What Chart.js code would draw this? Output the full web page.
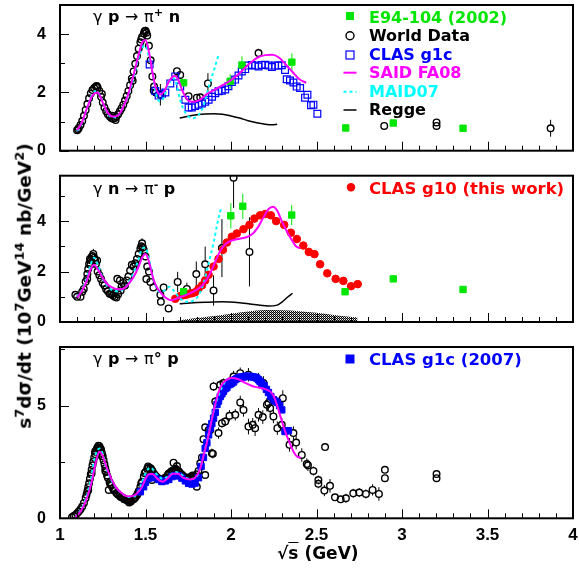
<!DOCTYPE html>
<html><head><meta charset="utf-8">
<script src="https://cdn.jsdelivr.net/npm/chart.js@4.4.1/dist/chart.umd.min.js"></script>
<style>
html,body{margin:0;padding:0;background:#fff;}
#wrap{position:relative;width:579px;height:571px;overflow:hidden;background:#fff;}
canvas{position:absolute;left:0;top:0;}
.t{position:absolute;white-space:nowrap;font-family:"DejaVu Sans",sans-serif;font-weight:bold;font-size:16px;line-height:16px;color:#000;}
.t sup{font-size:70%;line-height:0;position:relative;top:-0.55em;vertical-align:baseline;}
.n{font-weight:normal;}
</style></head><body>
<div id="wrap">
<canvas id="c3" width="579" height="571"></canvas>
<canvas id="c2" width="579" height="571"></canvas>
<canvas id="c1" width="579" height="571"></canvas>

<div class="t" style="left:93px;top:9px;"><span class="n">γ</span> p <span class="n">→</span> <span class="n">π</span><sup>+</sup> n</div>
<div class="t" style="left:93px;top:181px;"><span class="n">γ</span> n <span class="n">→</span> <span class="n">π</span><sup>-</sup> p</div>
<div class="t" style="left:93px;top:351px;"><span class="n">γ</span> p <span class="n">→</span> <span class="n">π</span>° p</div>

<div class="t" style="left:369px;top:9.8px;color:#00e600;">E94-104 (2002)</div>
<div class="t" style="left:369px;top:28.3px;">World Data</div>
<div class="t" style="left:369px;top:46.8px;color:#0000ff;">CLAS g1c</div>
<div class="t" style="left:369px;top:65.3px;color:#ff00ff;">SAID FA08</div>
<div class="t" style="left:369px;top:83.8px;color:#00ffff;">MAID07</div>
<div class="t" style="left:369px;top:102.3px;">Regge</div>
<div class="t" style="left:369px;top:181.3px;color:#ff0000;font-size:16.5px;">CLAS g10 (this work)</div>
<div class="t" style="left:369px;top:351.6px;color:#0000ff;font-size:16.5px;">CLAS g1c (2007)</div>

<div class="t" style="left:277px;top:545px;font-size:17px;">√<span style="text-decoration:overline;">s</span> (GeV)</div>
<div class="t" style="left:25px;top:286px;font-size:18.5px;line-height:18.5px;transform:translate(-50%,-50%) rotate(-90deg);">s<sup>7</sup>dσ/dt (10<sup>7</sup>GeV<sup>14</sup> nb/GeV<sup>2</sup>)</div>
</div>
<script>
// ---------------- DATA ----------------
const xRange = [1, 4];
const yMaxes = [5, 5.8, 7.6];
const yMajorSteps = [2, 2, 5];
const yMinorSteps = [1, 1, 2.5];

// Panel 1: gamma p -> pi+ n   [x, y, err]
const p1World = [
[1.10,0.70,0.05],[1.105,0.74,0.05],[1.11,0.78,0.05],[1.12,0.88,0.05],[1.13,1.02,0.05],[1.14,1.20,0.06],[1.15,1.40,0.06],
[1.16,1.60,0.06],[1.17,1.80,0.07],[1.18,1.96,0.07],[1.19,2.08,0.07],[1.20,2.15,0.08],[1.21,2.20,0.08],[1.215,2.22,0.08],
[1.22,2.17,0.08],[1.23,2.05,0.07],[1.24,1.85,0.07],[1.245,1.95,0.07],[1.25,1.65,0.06],[1.26,1.48,0.06],[1.27,1.35,0.05],
[1.28,1.25,0.05],[1.29,1.18,0.05],[1.30,1.12,0.05],[1.305,1.20,0.05],[1.31,1.10,0.05],[1.32,1.12,0.05],[1.325,1.05,0.05],
[1.33,1.17,0.05],[1.34,1.25,0.05],[1.35,1.35,0.06],[1.36,1.46,0.06],[1.37,1.58,0.06],[1.38,1.72,0.07],[1.39,1.88,0.07],
[1.40,2.05,0.08],[1.41,2.25,0.08],[1.42,2.48,0.09],[1.425,2.40,0.09],[1.43,2.72,0.09],[1.44,2.98,0.10],[1.45,3.25,0.10],
[1.46,3.50,0.11],[1.47,3.72,0.12],[1.475,3.82,0.12],[1.48,3.90,0.12],[1.49,4.02,0.13],[1.495,4.10,0.13],[1.50,4.12,0.13],
[1.505,4.05,0.15],[1.51,3.95,0.13],[1.52,3.60,0.12],[1.53,3.10,0.11],[1.54,2.55,0.10],[1.548,2.07,0.10],[1.55,2.20,0.09],
[1.56,2.00,0.09],[1.587,1.92,0.37],[1.684,2.73,0.10],[1.703,2.60,0.10],[1.752,1.87,0.10],[1.80,1.82,0.10],[1.82,1.83,0.10],
[1.865,2.31,0.35],[2.161,3.35,0.15],[2.896,0.85,0.05],[3.202,0.97,0.06],[3.202,0.85,0.06],[3.869,0.77,0.29]
];
const p1E94 = [[1.723,2.33,0.10],[1.995,2.38,0.25],[2.064,2.94,0.30],[2.356,3.04,0.30],[2.671,0.78,0.04],[2.949,0.95,0.05],[3.357,0.77,0.04]];
const p1G1c = [
[1.524,2.96],[1.557,2.05],[1.577,1.89],[1.596,1.95],[1.616,2.00],[1.645,2.31],[1.674,2.55],[1.703,2.20],[1.733,1.75],
[1.752,1.48],[1.771,1.48],[1.79,1.53],[1.81,1.58],[1.83,1.62],[1.849,1.68],[1.869,1.75],[1.889,1.85],[1.908,1.97],
[1.927,2.04],[1.946,2.06],[1.966,2.10],[1.985,2.21],[2.005,2.36],[2.024,2.44],[2.044,2.58],[2.063,2.72],[2.083,2.80],
[2.102,2.92],[2.122,2.94],[2.141,2.92],[2.161,2.89],[2.18,2.94],[2.20,2.95],[2.219,2.92],[2.239,2.87],[2.258,2.92],
[2.277,2.92],[2.297,2.93],[2.316,2.77],[2.326,2.45],[2.345,2.41],[2.365,2.34],[2.384,2.20],[2.404,2.15],[2.433,1.82],
[2.447,1.92],[2.468,1.56],[2.482,1.58],[2.505,1.27]
];
const p1Said = [[1.10,0.70],[1.13,1.00],[1.16,1.50],[1.19,1.90],[1.22,2.00],[1.25,1.65],[1.28,1.30],[1.31,1.17],[1.34,1.22],
[1.37,1.50],[1.40,1.95],[1.43,2.60],[1.46,3.30],[1.48,3.70],[1.50,3.80],[1.52,3.40],[1.54,2.70],[1.56,2.15],[1.585,1.93],
[1.61,2.05],[1.64,2.40],[1.67,2.57],[1.69,2.45],[1.72,2.00],[1.75,1.72],[1.78,1.68],[1.82,1.75],[1.86,1.95],[1.90,2.08],
[1.95,2.25],[2.00,2.42],[2.05,2.66],[2.10,2.95],[2.15,3.18],[2.20,3.28],[2.24,3.29],[2.28,3.20],[2.32,2.96],[2.36,2.70],
[2.40,2.45],[2.44,2.33]];
const p1Maid = [[1.10,0.68],[1.13,0.98],[1.16,1.50],[1.19,1.95],[1.215,2.05],[1.24,1.80],[1.27,1.38],[1.30,1.15],[1.33,1.15],
[1.36,1.40],[1.40,1.90],[1.43,2.50],[1.46,3.20],[1.49,3.60],[1.50,3.62],[1.52,3.20],[1.54,2.70],[1.56,2.00],[1.58,1.70],
[1.60,1.75],[1.63,2.20],[1.66,2.50],[1.68,2.30],[1.70,1.80],[1.72,1.45],[1.75,1.18],[1.78,1.12],[1.81,1.22],[1.84,1.55],
[1.87,2.20],[1.90,2.75],[1.93,3.35]];
const p1Regge = [[1.70,1.12],[1.75,1.18],[1.80,1.23],[1.85,1.26],[1.90,1.27],[1.95,1.25],[2.00,1.19],[2.05,1.12],[2.10,1.03],
[2.15,0.96],[2.20,0.91],[2.24,0.89],[2.27,0.91]];

// Panel 2: gamma n -> pi- p
const p2World = [
[1.09,1.08,0.08],[1.10,1.00,0.08],[1.12,1.00,0.08],[1.13,1.20,0.08],[1.139,1.31,0.09],[1.15,1.60,0.1],[1.159,1.71,0.1],
[1.16,1.90,0.1],[1.165,2.10,0.12],[1.17,2.30,0.12],[1.175,2.50,0.12],[1.178,2.27,0.12],[1.18,2.45,0.12],[1.185,2.58,0.13],
[1.19,2.62,0.15],[1.195,2.70,0.2],[1.20,2.55,0.15],[1.205,2.45,0.12],[1.21,2.30,0.12],[1.217,2.44,0.12],[1.22,2.00,0.1],
[1.23,1.85,0.1],[1.24,1.70,0.1],[1.25,1.55,0.1],[1.26,1.45,0.1],[1.27,1.30,0.1],[1.28,1.22,0.1],[1.29,1.12,0.1],
[1.30,1.10,0.1],[1.31,1.05,0.1],[1.314,1.14,0.1],[1.32,1.00,0.1],[1.33,0.97,0.1],[1.335,1.71,0.12],[1.34,1.10,0.1],
[1.35,1.65,0.12],[1.355,1.25,0.1],[1.36,1.40,0.1],[1.37,1.55,0.1],[1.38,1.45,0.1],[1.39,1.65,0.1],[1.40,1.80,0.12],
[1.41,2.04,0.12],[1.42,2.27,0.12],[1.43,2.20,0.12],[1.44,2.33,0.12],[1.45,2.50,0.13],[1.46,2.70,0.14],[1.47,2.90,0.15],
[1.475,3.00,0.15],[1.48,3.12,0.2],[1.485,2.95,0.15],[1.49,2.85,0.15],[1.50,2.60,0.15],[1.505,1.70,0.15],[1.51,2.20,0.15],
[1.52,2.00,0.12],[1.528,1.59,0.12],[1.546,1.37,0.12],[1.587,1.08,0.12],[1.59,0.80,0.12],[1.606,1.37,0.15],[1.635,0.54,0.1],
[1.688,1.59,0.4],[1.742,1.31,0.25],[1.797,1.90,0.5],[1.849,2.29,0.7],[1.898,1.25,0.6],[1.947,2.93,1.15],[2.015,5.72,1.2],
[2.108,2.78,1.37]
];
const p2E94 = [[1.723,1.20,0.08],[1.999,4.21,0.5],[2.069,4.59,0.5],[2.355,4.24,0.4],[2.667,1.20,0.05],[2.949,1.71,0.1],[3.357,1.29,0.06]];
const p2G10 = [
[1.674,0.92],[1.703,1.03],[1.72,1.06],[1.738,1.08],[1.755,1.12],[1.772,1.14],[1.79,1.18],[1.81,1.32],[1.83,1.45],
[1.849,1.65],[1.869,1.87],[1.898,2.20],[1.927,2.50],[1.953,2.86],[1.976,3.15],[2.005,3.38],[2.034,3.51],[2.073,3.68],
[2.108,3.85],[2.137,4.10],[2.17,4.23],[2.20,4.28],[2.233,4.23],[2.264,4.00],[2.311,3.85],[2.35,3.54],[2.385,3.29],
[2.423,3.03],[2.455,2.78],[2.488,2.69],[2.521,2.29],[2.563,1.93],[2.612,1.71],[2.657,1.63],[2.702,1.42],[2.741,1.50]
];
const p2Said = [[1.10,0.97],[1.13,1.25],[1.16,1.70],[1.18,2.10],[1.20,2.27],[1.22,2.10],[1.25,1.75],[1.28,1.48],[1.31,1.35],
[1.34,1.30],[1.37,1.32],[1.40,1.50],[1.43,1.78],[1.46,2.20],[1.48,2.55],[1.50,2.70],[1.52,2.40],[1.54,1.85],[1.56,1.45],
[1.59,1.15],[1.62,0.95],[1.65,0.86],[1.69,0.95],[1.73,1.05],[1.78,1.20],[1.82,1.38],[1.85,1.60],[1.88,1.95],[1.91,2.42],
[1.94,2.85],[1.97,3.10],[2.00,3.22],[2.05,3.30],[2.09,3.36],[2.13,3.52],[2.16,3.78],[2.19,4.15],[2.22,4.48],[2.245,4.57],
[2.27,4.42],[2.30,3.95],[2.33,3.55],[2.36,3.20],[2.38,3.00],[2.405,2.93]];
const p2Maid = [[1.10,1.00],[1.13,1.30],[1.16,1.80],[1.18,2.30],[1.20,2.55],[1.22,2.30],[1.25,1.75],[1.28,1.40],[1.31,1.25],
[1.34,1.22],[1.37,1.30],[1.40,1.55],[1.43,1.95],[1.46,2.50],[1.48,2.90],[1.50,2.95],[1.52,2.50],[1.55,1.60],[1.58,1.20],
[1.61,1.25],[1.64,1.40],[1.67,1.20],[1.70,0.95],[1.74,0.80],[1.78,0.85],[1.81,1.05],[1.84,1.55],[1.87,2.35],[1.90,3.20],
[1.92,3.90],[1.94,4.47]];
const p2Regge = [[1.70,0.72],[1.76,0.75],[1.85,0.78],[1.95,0.80],[2.05,0.76],[2.15,0.68],[2.22,0.63],[2.27,0.67],[2.30,0.80],
[2.33,0.98],[2.36,1.14]];
const p2Sys = [[1.67,0.03],[1.75,0.12],[1.85,0.20],[1.95,0.28],[2.05,0.38],[2.15,0.46],[2.25,0.48],[2.35,0.46],[2.45,0.40],
[2.55,0.33],[2.65,0.24],[2.74,0.18]];

// Panel 3: gamma p -> pi0 p
const p3World = [
[1.07,0.05,0.03],[1.08,0.10,0.03],[1.09,0.15,0.03],[1.10,0.22,0.04],[1.11,0.30,0.04],[1.12,0.40,0.05],[1.13,0.52,0.05],
[1.14,0.68,0.06],[1.15,0.90,0.06],[1.155,1.05,0.06],[1.16,1.20,0.07],[1.165,1.38,0.07],[1.17,1.55,0.08],[1.175,1.75,0.08],
[1.18,1.95,0.08],[1.185,2.15,0.09],[1.19,2.35,0.09],[1.195,2.52,0.1],[1.20,2.70,0.1],[1.205,2.85,0.1],[1.21,3.00,0.1],
[1.215,3.08,0.1],[1.22,3.15,0.1],[1.225,3.22,0.1],[1.23,3.20,0.1],[1.235,3.12,0.1],[1.24,3.05,0.1],[1.245,2.90,0.1],
[1.25,2.75,0.1],[1.255,2.58,0.1],[1.26,2.40,0.1],[1.265,2.22,0.09],[1.27,2.05,0.09],[1.28,1.80,0.08],[1.285,1.26,0.08],
[1.29,1.60,0.08],[1.30,1.45,0.07],[1.31,1.32,0.07],[1.32,1.22,0.07],[1.33,1.12,0.06],[1.34,1.05,0.06],[1.35,1.00,0.06],
[1.36,0.95,0.06],[1.37,0.90,0.06],[1.38,0.85,0.06],[1.39,0.82,0.06],[1.40,0.80,0.06],[1.405,0.70,0.06],[1.41,0.80,0.06],
[1.42,0.82,0.06],[1.43,0.85,0.06],[1.44,0.92,0.06],[1.45,1.02,0.06],[1.46,1.20,0.07],[1.47,1.40,0.07],[1.48,1.62,0.08],
[1.49,1.85,0.08],[1.50,2.05,0.08],[1.51,2.20,0.08],[1.52,2.25,0.08],[1.53,2.22,0.08],[1.538,1.70,0.1],[1.54,2.10,0.08],
[1.55,1.98,0.08],[1.56,1.88,0.08],[1.57,1.80,0.08],[1.58,1.75,0.08],[1.59,1.72,0.08],[1.60,1.72,0.08],[1.61,1.75,0.08],
[1.62,1.82,0.08],[1.63,1.92,0.08],[1.64,2.00,0.08],[1.65,2.08,0.08],[1.66,2.12,0.08],[1.664,2.47,0.1],[1.67,2.15,0.08],
[1.68,2.15,0.08],[1.684,2.32,0.1],[1.69,2.10,0.08],[1.70,2.02,0.08],[1.71,1.95,0.08],[1.72,1.88,0.08],[1.73,1.82,0.08],
[1.74,1.80,0.08],[1.75,1.80,0.08],[1.76,1.82,0.08],[1.77,1.85,0.08],[1.78,1.85,0.08],[1.79,1.80,0.08],[1.80,1.40,0.12],
[1.80,1.95,0.1],[1.81,2.10,0.1],[1.82,2.44,0.12],[1.83,2.70,0.12],
[1.165,1.25,0.07],[1.185,2.00,0.08],[1.205,2.95,0.1],[1.225,3.10,0.1],[1.245,2.75,0.1],[1.265,2.10,0.09],[1.275,1.90,0.08],
[1.295,1.50,0.08],[1.315,1.25,0.07],[1.335,1.10,0.06],[1.355,0.95,0.06],[1.375,0.85,0.06],[1.395,0.78,0.06],[1.415,0.75,0.06],
[1.435,0.88,0.06],[1.455,1.10,0.06],[1.475,1.55,0.07],[1.495,2.00,0.08],[1.515,2.30,0.08],[1.535,2.15,0.08],[1.555,1.90,0.08],
[1.575,1.75,0.08],[1.595,1.65,0.08],[1.615,1.80,0.08],[1.635,1.98,0.08],[1.655,2.05,0.08],[1.675,2.20,0.08],[1.695,2.08,0.08],
[1.715,1.90,0.08],[1.735,1.78,0.08],[1.755,1.75,0.08],[1.775,1.90,0.08],[1.795,1.85,0.08],
[1.839,3.51,0.15],[1.849,4.04,0.15],[1.849,1.92,0.15],[1.869,3.92,0.2],[1.879,3.92,0.2],[1.888,2.89,0.2],[1.894,2.86,0.2],
[1.898,5.85,0.2],[1.908,5.18,0.2],[1.927,3.78,0.25],[1.937,5.92,0.2],[1.947,4.22,0.2],[1.956,6.00,0.2],[1.966,4.29,0.2],
[1.991,4.55,0.25],[1.995,6.07,0.2],[2.015,6.29,0.25],[2.025,4.59,0.25],[2.054,5.14,0.3],[2.054,6.44,0.25],[2.073,4.81,0.3],
[2.102,4.07,0.35],[2.102,6.37,0.3],[2.127,4.15,0.3],[2.141,4.00,0.35],[2.161,4.59,0.3],[2.161,6.15,0.3],[2.186,4.49,0.3],
[2.19,6.00,0.3],[2.21,5.04,0.3],[2.219,5.11,0.3],[2.229,4.89,0.3],[2.248,4.52,0.3],[2.271,4.00,0.3],[2.297,4.15,0.3],
[2.303,5.33,0.35],[2.342,3.26,0.3],[2.365,3.78,0.3],[2.381,3.36,0.3],[2.414,2.81,0.3],[2.443,2.41,0.25],[2.45,2.35,0.25],
[2.482,2.10,0.2],[2.511,1.70,0.2],[2.511,1.53,0.2],[2.546,1.23,0.25],[2.55,3.16,0.15],[2.579,1.44,0.3],[2.608,0.93,0.15],
[2.641,0.84,0.15],[2.672,0.89,0.2],[2.715,1.11,0.2],[2.75,1.14,0.2],[2.789,1.08,0.2],[2.828,1.26,0.25],[2.865,1.08,0.3],
[2.90,1.78,0.15],[2.90,2.15,0.15],[3.202,1.96,0.1],[3.202,1.78,0.1]
];
const p3G1c = [
[1.47,1.18],[1.489,1.40],[1.50,1.60],[1.518,1.78],[1.538,1.85],[1.557,1.80],[1.577,1.72],[1.596,1.63],[1.616,1.66],
[1.636,1.72],[1.655,1.85],[1.674,1.90],[1.694,1.88],[1.713,1.78],[1.733,1.66],[1.752,1.55],[1.772,1.52],[1.79,1.56],
[1.81,1.80],[1.825,2.30],[1.839,2.70],[1.849,3.10],[1.859,3.35],[1.869,3.70],[1.879,4.00],[1.888,4.20],[1.898,4.44],
[1.908,4.70],[1.918,5.05],[1.927,5.20],[1.937,5.40],[1.947,5.52],[1.956,5.63],[1.966,5.75],[1.976,5.80],[1.985,5.92],
[1.995,5.95],[2.005,6.00],[2.015,6.05],[2.024,6.15],[2.034,6.20],[2.044,6.22],[2.054,6.25],[2.063,6.27],[2.073,6.27],
[2.083,6.30],[2.092,6.30],[2.102,6.29],[2.112,6.30],[2.122,6.28],[2.131,6.27],[2.141,6.25],[2.151,6.22],[2.161,6.15],
[2.17,6.07],[2.18,5.98],[2.194,5.88],[2.207,5.72],[2.219,5.58],[2.233,5.40],[2.248,5.26],[2.26,5.20],[2.271,5.14],
[2.284,5.00],[2.297,4.81],[2.316,3.85],[2.336,3.89]
];
const p3Said = [[1.09,0.05],[1.12,0.30],[1.15,0.75],[1.18,1.45],[1.21,2.50],[1.23,2.95],[1.25,2.75],[1.27,2.30],[1.30,1.75],
[1.33,1.35],[1.36,1.12],[1.39,0.98],[1.42,0.98],[1.45,1.10],[1.48,1.40],[1.50,1.75],[1.52,1.95],[1.54,1.96],[1.57,1.75],
[1.60,1.62],[1.63,1.78],[1.66,1.98],[1.69,1.98],[1.72,1.80],[1.76,1.72],[1.79,1.80],[1.82,2.20],[1.84,2.80],[1.86,3.40],
[1.88,4.10],[1.90,4.80],[1.92,5.40],[1.94,5.85],[1.97,6.12],[2.00,6.22],[2.04,6.18],[2.08,6.02],[2.12,5.88],[2.16,5.80],
[2.20,5.73],[2.23,5.62],[2.25,5.42],[2.27,5.00],[2.29,4.50],[2.31,4.00],[2.34,3.40],[2.37,2.90],[2.39,2.72],[2.408,2.70]];
const p3Maid = [[1.09,0.05],[1.12,0.35],[1.15,0.85],[1.18,1.70],[1.20,2.60],[1.23,3.10],[1.25,2.85],[1.27,2.25],[1.30,1.70],
[1.33,1.35],[1.36,1.12],[1.40,0.95],[1.44,1.00],[1.47,1.40],[1.50,2.00],[1.53,2.25],[1.56,2.00],[1.60,1.75],[1.64,1.90],
[1.67,2.05],[1.70,2.00],[1.74,1.78],[1.78,1.75],[1.81,2.00],[1.84,2.80],[1.87,3.80],[1.90,4.80],[1.93,5.50],[1.96,6.00],
[1.98,6.20]];

// ---------------- HELPERS ----------------
const GREEN = '#00e600', BLUE = '#0000ff', MAG = '#ff00ff', CYAN = '#00ffff', RED = '#ff0000';
const TICKFONT = 'Liberation Sans, Arial, sans-serif';
const pts = a => a.map(p => ({x: p[0], y: p[1]}));
const errsOf = a => a.map(p => p[2] || 0);

function lineDS(a, color, w, dash) {
  return {type: 'line', data: pts(a), borderColor: color, borderWidth: w, borderDash: dash || [],
    pointRadius: 0, fill: false, cubicInterpolationMode: 'monotone', order: 0};
}
function markDS(a, style, r, border, bg, order, half, bw) {
  return {type: 'scatter', data: pts(a), errs: errsOf(a), errColor: border, halfSize: half,
    pointStyle: style, pointRadius: r, borderColor: border, backgroundColor: bg, borderWidth: bw || 1,
    showLine: false, order: order};
}
function hatch() {
  const c = document.createElement('canvas'); c.width = 2; c.height = 2;
  const g = c.getContext('2d');
  g.fillStyle = '#ffffff'; g.fillRect(0, 0, 2, 2);
  g.fillStyle = '#000000'; g.fillRect(0, 0, 1, 1); g.fillRect(1, 1, 1, 1);
  g.fillStyle = '#8a8a8a'; g.fillRect(1, 0, 1, 1);
  return g.createPattern(c, 'repeat');
}

const errPlugin = {
  id: 'errbars',
  beforeDatasetsDraw(chart) {
    const ctx = chart.ctx, a = chart.chartArea, ys = chart.scales.y;
    ctx.save(); ctx.beginPath(); ctx.rect(a.left, a.top, a.right - a.left, a.bottom - a.top); ctx.clip();
    chart.data.datasets.forEach((ds, di) => {
      if (!ds.errs) return;
      const meta = chart.getDatasetMeta(di);
      ctx.strokeStyle = ds.errColor; ctx.lineWidth = 1;
      meta.data.forEach((pt, i) => {
        const e = ds.errs[i]; if (!e) return;
        const v = ds.data[i].y;
        const top = ys.getPixelForValue(v + e), bot = ys.getPixelForValue(v - e);
        const r = ds.halfSize;
        ctx.beginPath();
        if (pt.y - r > top) { ctx.moveTo(pt.x, top); ctx.lineTo(pt.x, pt.y - r); }
        if (bot > pt.y + r) { ctx.moveTo(pt.x, pt.y + r); ctx.lineTo(pt.x, bot); }
        ctx.stroke();
      });
    });
    ctx.restore();
  }
};

const framePlugin = {
  id: 'frame',
  afterDraw(chart, args, o) {
    const ctx = chart.ctx, a = chart.chartArea, xs = chart.scales.x, ys = chart.scales.y;
    ctx.save();
    ctx.strokeStyle = '#000'; ctx.lineWidth = 1;
    for (let i = xRange[0] * 10; i <= xRange[1] * 10; i++) {
      const px = Math.round(xs.getPixelForValue(i / 10)) + 0.5;
      const L = (i % 5 === 0) ? 9 : 5;
      ctx.beginPath(); ctx.moveTo(px, a.bottom); ctx.lineTo(px, a.bottom - L); ctx.stroke();
    }
    for (let v = 0; v <= ys.max + 1e-9; v += o.minor) {
      const py = Math.round(ys.getPixelForValue(v)) + 0.5;
      const major = Math.abs(v / o.major - Math.round(v / o.major)) < 1e-6;
      const L = major ? 9 : 5;
      ctx.beginPath(); ctx.moveTo(a.left, py); ctx.lineTo(a.left + L, py); ctx.stroke();
    }
    ctx.lineWidth = 2;
    ctx.strokeRect(a.left, a.top, a.right - a.left, a.bottom - a.top);
    // legend markers
    (o.marks || []).forEach(m => {
      ctx.save();
      ctx.lineWidth = m.lw || 1;
      ctx.strokeStyle = m.color; ctx.fillStyle = m.color;
      if (m.kind === 'sqf') { ctx.fillRect(m.x - m.s / 2, m.y - m.s / 2, m.s, m.s); }
      else if (m.kind === 'sqo') { ctx.strokeRect(m.x - m.s / 2, m.y - m.s / 2, m.s, m.s); }
      else if (m.kind === 'cio') { ctx.beginPath(); ctx.arc(m.x, m.y, m.s, 0, Math.PI * 2); ctx.stroke(); }
      else if (m.kind === 'cif') { ctx.beginPath(); ctx.arc(m.x, m.y, m.s, 0, Math.PI * 2); ctx.fill(); }
      else if (m.kind === 'line') {
        ctx.setLineDash(m.dash || []);
        ctx.beginPath(); ctx.moveTo(m.x - m.s / 2, m.y); ctx.lineTo(m.x + m.s / 2, m.y); ctx.stroke();
      }
      ctx.restore();
    });
    ctx.restore();
  }
};

const fmt = v => String(Number(Number(v).toFixed(2)));
function yScale(max, step) {
  return {type: 'linear', min: 0, max: max, position: 'left',
    grid: {display: false, drawTicks: false}, border: {display: false},
    ticks: {stepSize: step, includeBounds: false, padding: 14, color: '#000', callback: fmt,
      font: {family: TICKFONT, weight: 'bold', size: 16}},
    afterFit: s => { s.width = 60; s.paddingTop = 0; s.paddingBottom = 0; }};
}
function xScale(show) {
  return {type: 'linear', min: xRange[0], max: xRange[1], display: show, position: 'bottom',
    grid: {display: false, drawTicks: false}, border: {display: false},
    ticks: {stepSize: 0.5, includeBounds: false, padding: 7, maxRotation: 0, autoSkip: false, color: '#000', callback: fmt,
      font: {family: TICKFONT, weight: 'bold', size: 17}},
    afterFit: s => { s.height = 25; s.paddingLeft = 0; s.paddingRight = 0; }};
}
function make(id, datasets, idx, pad, showX, marks) {
  return new Chart(document.getElementById(id), {
    type: 'scatter',
    data: {datasets: datasets},
    options: {
      responsive: false, animation: false, events: [],
      layout: {padding: pad, autoPadding: false},
      scales: {x: xScale(showX), y: yScale(yMaxes[idx], yMajorSteps[idx])},
      plugins: {legend: {display: false}, tooltip: {enabled: false},
        frame: {major: yMajorSteps[idx], minor: yMinorSteps[idx], marks: marks}}
    },
    plugins: [errPlugin, framePlugin]
  });
}

// ---------------- CHARTS ----------------
const OPEN = 'rgba(0,0,0,0)';
make('c1', [
  lineDS(p1Said, MAG, 2),
  lineDS(p1Maid, CYAN, 2, [3, 3]),
  lineDS(p1Regge, '#000', 1.5),
  markDS(p1E94, 'rect', 4.5, GREEN, GREEN, 1, 3.2),
  markDS(p1G1c, 'rect', 4.8, BLUE, OPEN, 2, 3.4, 1.2),
  markDS(p1World, 'circle', 3.3, '#000', OPEN, 3, 3.3, 1.4)
], 0, {top: 5, bottom: 395.3, left: 0, right: 6}, false, [
  {kind: 'sqf', x: 350, y: 16, s: 8, color: GREEN},
  {kind: 'cio', x: 350, y: 35.7, s: 4, color: '#000', lw: 1.4},
  {kind: 'sqo', x: 350, y: 55, s: 8, color: BLUE, lw: 1.2},
  {kind: 'line', x: 350, y: 72.7, s: 13, color: MAG, lw: 2},
  {kind: 'line', x: 350, y: 91.7, s: 13, color: CYAN, lw: 2, dash: [3, 3]},
  {kind: 'line', x: 350, y: 110, s: 13, color: '#000', lw: 1.5}
]);

make('c2', [
  lineDS(p2Said, MAG, 2),
  lineDS(p2Maid, CYAN, 2, [3, 3]),
  lineDS(p2Regge, '#000', 1.5),
  markDS(p2E94, 'rect', 4.5, GREEN, GREEN, 1, 3.2),
  markDS(p2G10, 'circle', 3.8, RED, RED, 2, 3.8),
  markDS(p2World, 'circle', 3.3, '#000', OPEN, 3, 3.3, 1.4),
  {type: 'line', data: pts(p2Sys), borderWidth: 0, borderColor: 'rgba(0,0,0,0)', backgroundColor: hatch(),
    fill: 'origin', pointRadius: 0, cubicInterpolationMode: 'monotone', order: 10}
], 1, {top: 175.7, bottom: 224, left: 0, right: 6}, false, [
  {kind: 'cif', x: 351, y: 187.3, s: 4.2, color: RED}
]);

make('c3', [
  lineDS(p3Said, MAG, 2),
  lineDS(p3Maid, CYAN, 2, [3, 3]),
  markDS(p3G1c, 'rect', 4.5, BLUE, BLUE, 2, 3.2),
  markDS(p3World, 'circle', 3.3, '#000', OPEN, 3, 3.3, 1.4)
], 2, {top: 347, bottom: 27.7, left: 0, right: 6}, true, [
  {kind: 'sqf', x: 350, y: 359, s: 9, color: BLUE}
]);
</script>
</body></html>
